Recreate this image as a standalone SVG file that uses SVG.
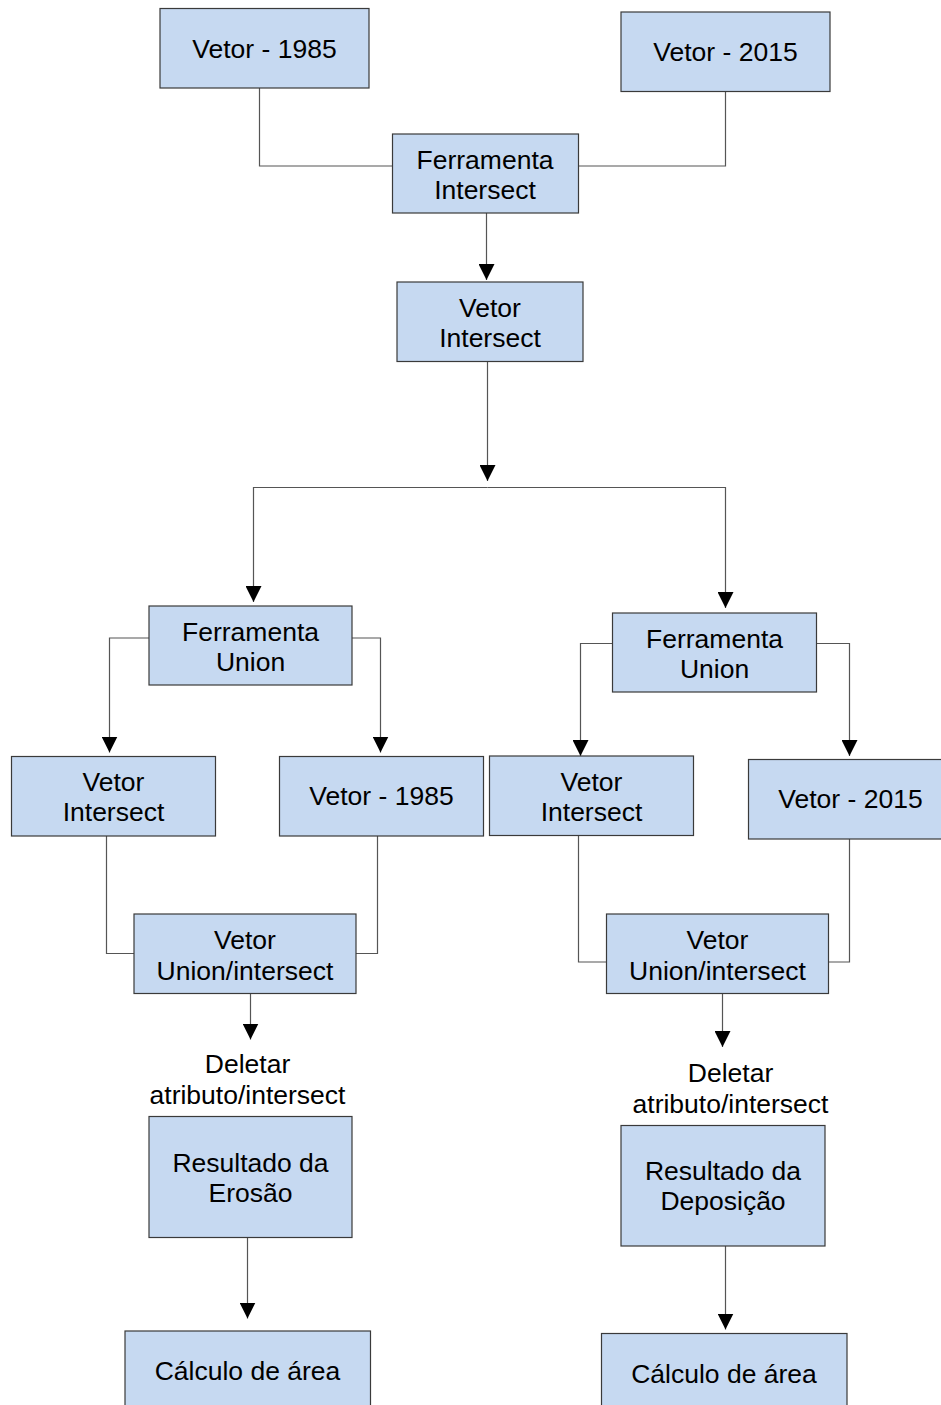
<svg xmlns="http://www.w3.org/2000/svg" width="941" height="1405" viewBox="0 0 941 1405">
<style>
.box{fill:#c6d9f1;stroke:#3a3a3a;stroke-width:1.2}
.t{font-family:"Liberation Sans",Arial,sans-serif;font-size:26.5px;fill:#000;text-anchor:middle}
.c{fill:none;stroke:#555;stroke-width:1.2}
.a{marker-end:url(#arr)}
</style>
<defs>
<marker id="arr" markerUnits="userSpaceOnUse" markerWidth="16" markerHeight="16" refX="15" refY="7.5" orient="auto" viewBox="0 0 15 15">
<path d="M0,0 L15,7.5 L0,15 z" fill="#000"/>
</marker>
</defs>
<rect width="941" height="1405" fill="#fff"/>
<g id="connectors">
<path class="c" d="M259.5,88 V166 H392"/>
<path class="c" d="M725.5,91 V166 H578"/>
<path class="c a" d="M486.5,213 V280"/>
<path class="c a" d="M487.5,362 V481"/>
<path class="c a" d="M487.5,487.5 H253.5 V602"/>
<path class="c a" d="M487.5,487.5 H725.5 V608"/>
<path class="c a" d="M149,638 H109.5 V752.5"/>
<path class="c a" d="M352,638 H380.5 V752.5"/>
<path class="c a" d="M612,643.5 H580.5 V756"/>
<path class="c a" d="M816,643.5 H849.5 V756"/>
<path class="c" d="M106.5,836 V953.5 H134"/>
<path class="c" d="M377.5,836 V953.5 H356"/>
<path class="c" d="M578.5,836 V962 H606"/>
<path class="c" d="M849.5,839 V962 H828"/>
<path class="c a" d="M250.5,993 V1039.5"/>
<path class="c a" d="M247.5,1237 V1318.5"/>
<path class="c a" d="M722.5,993 V1047"/>
<path class="c a" d="M725.5,1246 V1329.5"/>
</g>
<g id="n1"><rect class="box" x="160" y="8.5" width="209" height="79.5"/><text class="t" x="264.5" y="57.5">Vetor - 1985</text></g>
<g id="n2"><rect class="box" x="621" y="12" width="209" height="79.5"/><text class="t" x="725.5" y="61">Vetor - 2015</text></g>
<g id="n3"><rect class="box" x="392.5" y="134" width="186" height="79"/><text class="t" x="485" y="168.5">Ferramenta</text><text class="t" x="485" y="198.5">Intersect</text></g>
<g id="n4"><rect class="box" x="397" y="282" width="186" height="79.5"/><text class="t" x="490" y="316.7">Vetor</text><text class="t" x="490" y="346.7">Intersect</text></g>
<g id="n5"><rect class="box" x="149" y="606" width="203" height="79"/><text class="t" x="250.5" y="640.5">Ferramenta</text><text class="t" x="250.5" y="670.5">Union</text></g>
<g id="n6"><rect class="box" x="612.5" y="613" width="204" height="79"/><text class="t" x="714.5" y="647.5">Ferramenta</text><text class="t" x="714.5" y="677.5">Union</text></g>
<g id="n7"><rect class="box" x="11.5" y="756.5" width="204" height="79.5"/><text class="t" x="113.5" y="790.7">Vetor</text><text class="t" x="113.5" y="821">Intersect</text></g>
<g id="n8"><rect class="box" x="279.5" y="756.5" width="204" height="79.5"/><text class="t" x="381.5" y="804.5">Vetor - 1985</text></g>
<g id="n9"><rect class="box" x="489.5" y="756" width="204" height="79.5"/><text class="t" x="591.5" y="790.5">Vetor</text><text class="t" x="591.5" y="820.5">Intersect</text></g>
<g id="n10"><rect class="box" x="748.5" y="759.5" width="205" height="79.5"/><text class="t" x="850.5" y="807.5">Vetor - 2015</text></g>
<g id="n11"><rect class="box" x="134" y="914" width="222" height="79.5"/><text class="t" x="245" y="948.5">Vetor</text><text class="t" x="245" y="980">Union/intersect</text></g>
<g id="n12"><rect class="box" x="606.5" y="914" width="222" height="79.5"/><text class="t" x="717.5" y="948.5">Vetor</text><text class="t" x="717.5" y="980">Union/intersect</text></g>
<g id="l1"><text class="t" x="247.5" y="1073.3">Deletar</text><text class="t" x="247.5" y="1104">atributo/intersect</text></g>
<g id="l2"><text class="t" x="730.5" y="1082">Deletar</text><text class="t" x="730.5" y="1113">atributo/intersect</text></g>
<g id="n13"><rect class="box" x="149" y="1116.5" width="203" height="121"/><text class="t" x="250.5" y="1171.5">Resultado da</text><text class="t" x="250.5" y="1202">Erosão</text></g>
<g id="n14"><rect class="box" x="621" y="1125.5" width="204" height="120.5"/><text class="t" x="723" y="1179.5">Resultado da</text><text class="t" x="723" y="1210">Deposição</text></g>
<g id="n15"><rect class="box" x="125" y="1331" width="245.5" height="90"/><text class="t" x="247.5" y="1380">Cálculo de área</text></g>
<g id="n16"><rect class="box" x="601.5" y="1333.5" width="245.5" height="90"/><text class="t" x="724" y="1383">Cálculo de área</text></g>
</svg>
